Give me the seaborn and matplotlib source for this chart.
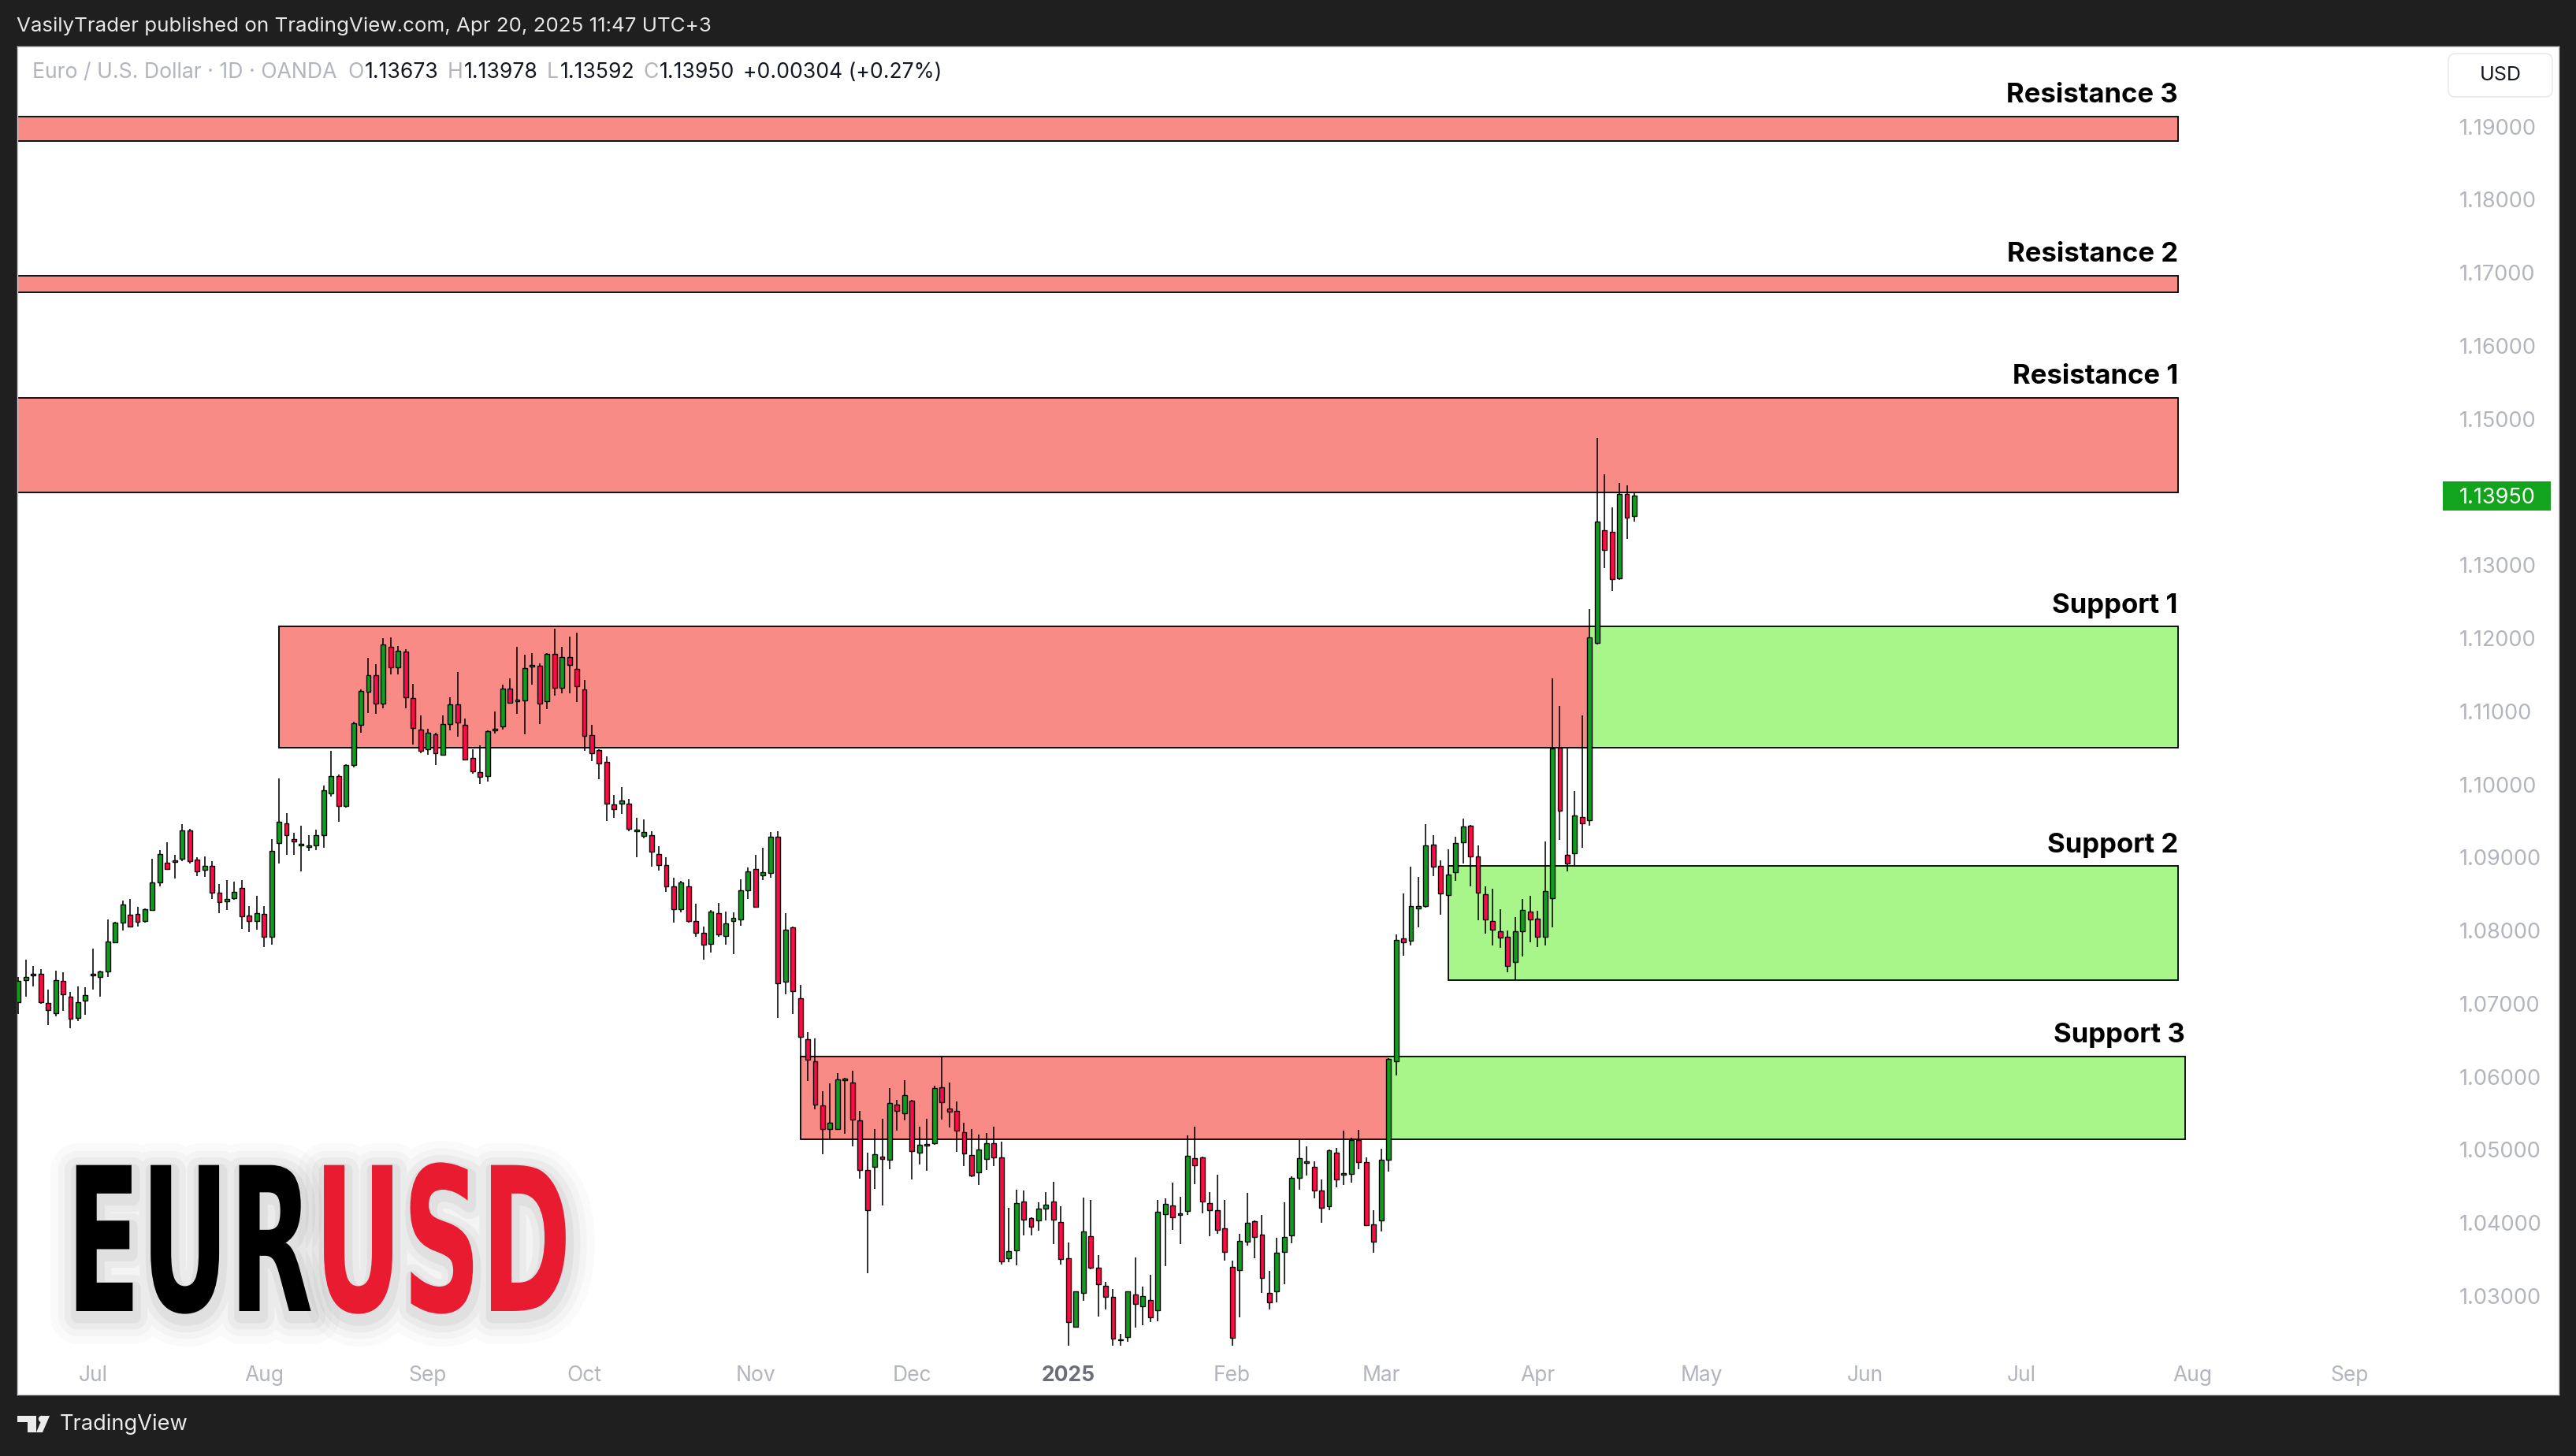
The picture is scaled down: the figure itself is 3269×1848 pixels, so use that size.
import matplotlib
matplotlib.use('Agg')
import matplotlib.pyplot as plt
import matplotlib.patheffects as pe
import numpy as np
import pandas as pd
import seaborn as sns
from matplotlib.patches import Rectangle, FancyBboxPatch, Polygon, Circle
from matplotlib.transforms import Affine2D, IdentityTransform, blended_transform_factory

# EUR/USD daily candles (OANDA), 17 Jun 2024 .. 18 Apr 2025
first_day = '2024-06-17'
holidays = ['2024-12-25', '2025-01-01']

opens = [
    1.0702, 1.0732, 1.0739, 1.0741, 1.0701, 1.0687, 1.0731, 1.0710, 1.0680, 1.0704,
    1.0739, 1.0737, 1.0744, 1.0784, 1.0811, 1.0822, 1.0823, 1.0813, 1.0828, 1.0866,
    1.0893, 1.0894, 1.0898, 1.0937, 1.0897, 1.0883, 1.0888, 1.0852, 1.0840, 1.0844,
    1.0858, 1.0821, 1.0813, 1.0823, 1.0791, 1.0920, 1.0947, 1.0925, 1.0917, 1.0914,
    1.0916, 1.0930, 1.0988, 1.1011, 1.0970, 1.1026, 1.1081, 1.1127, 1.1149, 1.1111,
    1.1188, 1.1160, 1.1182, 1.1118, 1.1075, 1.1048, 1.1069, 1.1040, 1.1083, 1.1109,
    1.1081, 1.1036, 1.1017, 1.1011, 1.1074, 1.1079, 1.1131, 1.1114, 1.1115, 1.1161,
    1.1162, 1.1114, 1.1178, 1.1132, 1.1174, 1.1158, 1.1130, 1.1067, 1.1047, 1.1031,
    1.0973, 1.0974, 1.0974, 1.0936, 1.0929, 1.0931, 1.0905, 1.0890, 1.0860, 1.0829,
    1.0860, 1.0813, 1.0797, 1.0782, 1.0824, 1.0793, 1.0813, 1.0815, 1.0855, 1.0884,
    1.0876, 1.0879, 1.0928, 1.0730, 1.0804, 1.0707, 1.0651, 1.0621, 1.0561, 1.0529,
    1.0529, 1.0595, 1.0592, 1.0540, 1.0472, 1.0477, 1.0491, 1.0486, 1.0562, 1.0550,
    1.0567, 1.0496, 1.0506, 1.0509, 1.0586, 1.0557, 1.0553, 1.0524, 1.0493, 1.0469,
    1.0488, 1.0509, 1.0490, 1.0352, 1.0362, 1.0429, 1.0407, 1.0403, 1.0420, 1.0429,
    1.0401, 1.0352, 1.0258, 1.0304, 1.0382, 1.0339, 1.0314, 1.0299, 1.0240, 1.0244,
    1.0302, 1.0286, 1.0295, 1.0281, 1.0412, 1.0424, 1.0411, 1.0416, 1.0489, 1.0490,
    1.0427, 1.0417, 1.0393, 1.0340, 1.0336, 1.0374, 1.0402, 1.0384, 1.0304, 1.0307,
    1.0360, 1.0383, 1.0462, 1.0482, 1.0477, 1.0444, 1.0423, 1.0496, 1.0466, 1.0467,
    1.0513, 1.0483, 1.0398, 1.0403, 1.0487, 1.0621, 1.0789, 1.0786, 1.0830, 1.0833,
    1.0918, 1.0888, 1.0849, 1.0880, 1.0921, 1.0943, 1.0901, 1.0850, 1.0813, 1.0799,
    1.0792, 1.0757, 1.0799, 1.0826, 1.0816, 1.0791, 1.0844, 1.1050, 1.0904, 1.0906,
    1.0955, 1.0951, 1.1194, 1.1348, 1.1346, 1.1282, 1.1397, 1.13673,
]
highs = [
    1.0737, 1.0760, 1.0752, 1.0747, 1.0719, 1.0745, 1.0743, 1.0716, 1.0724, 1.0723,
    1.0775, 1.0745, 1.0815, 1.0812, 1.0841, 1.0843, 1.0832, 1.0830, 1.0898, 1.0910,
    1.0921, 1.0904, 1.0946, 1.0939, 1.0900, 1.0901, 1.0895, 1.0864, 1.0869, 1.0867,
    1.0869, 1.0834, 1.0848, 1.0833, 1.0925, 1.1008, 1.0961, 1.0934, 1.0943, 1.0930,
    1.0938, 1.0998, 1.1046, 1.1014, 1.1028, 1.1086, 1.1130, 1.1173, 1.1164, 1.1200,
    1.1201, 1.1189, 1.1185, 1.1138, 1.1094, 1.1076, 1.1071, 1.1094, 1.1119, 1.1154,
    1.1090, 1.1048, 1.1053, 1.1074, 1.1100, 1.1136, 1.1145, 1.1188, 1.1177, 1.1180,
    1.1166, 1.1180, 1.1213, 1.1188, 1.1202, 1.1208, 1.1143, 1.1081, 1.1048, 1.1038,
    1.0985, 1.0996, 1.0980, 1.0954, 1.0952, 1.0936, 1.0915, 1.0900, 1.0872, 1.0868,
    1.0870, 1.0837, 1.0805, 1.0828, 1.0838, 1.0826, 1.0825, 1.0870, 1.0886, 1.0904,
    1.0913, 1.0935, 1.0936, 1.0824, 1.0806, 1.0726, 1.0661, 1.0652, 1.0580, 1.0591,
    1.0605, 1.0599, 1.0608, 1.0553, 1.0496, 1.0528, 1.0542, 1.0585, 1.0568, 1.0595,
    1.0568, 1.0532, 1.0542, 1.0588, 1.0628, 1.0592, 1.0566, 1.0537, 1.0529, 1.0521,
    1.0523, 1.0532, 1.0511, 1.0421, 1.0446, 1.0444, 1.0408, 1.0428, 1.0442, 1.0456,
    1.0423, 1.0373, 1.0307, 1.0435, 1.0432, 1.0356, 1.0319, 1.0310, 1.0248, 1.0307,
    1.0353, 1.0313, 1.0329, 1.0432, 1.0434, 1.0455, 1.0436, 1.0520, 1.0532, 1.0491,
    1.0442, 1.0466, 1.0431, 1.0348, 1.0385, 1.0441, 1.0403, 1.0411, 1.0334, 1.0380,
    1.0428, 1.0464, 1.0513, 1.0505, 1.0484, 1.0459, 1.0501, 1.0503, 1.0526, 1.0517,
    1.0527, 1.0490, 1.0417, 1.0502, 1.0626, 1.0795, 1.0851, 1.0887, 1.0873, 1.0946,
    1.0930, 1.0896, 1.0911, 1.0928, 1.0953, 1.0945, 1.0917, 1.0861, 1.0857, 1.0829,
    1.0800, 1.0818, 1.0843, 1.0848, 1.0827, 1.0922, 1.1145, 1.1107, 1.1049, 1.0991,
    1.1094, 1.1240, 1.1474, 1.1424, 1.1379, 1.1412, 1.1409, 1.13978,
]
lows = [
    1.0686, 1.0710, 1.0724, 1.0700, 1.0671, 1.0683, 1.0690, 1.0666, 1.0676, 1.0685,
    1.0719, 1.0710, 1.0736, 1.0783, 1.0800, 1.0804, 1.0805, 1.0811, 1.0827, 1.0861,
    1.0883, 1.0871, 1.0895, 1.0892, 1.0875, 1.0873, 1.0843, 1.0824, 1.0828, 1.0842,
    1.0802, 1.0798, 1.0801, 1.0777, 1.0781, 1.0892, 1.0904, 1.0904, 1.0881, 1.0909,
    1.0910, 1.0913, 1.0983, 1.0949, 1.0968, 1.1023, 1.1071, 1.1098, 1.1097, 1.1104,
    1.1150, 1.1150, 1.1104, 1.1055, 1.1043, 1.1041, 1.1026, 1.1039, 1.1074, 1.1065,
    1.1033, 1.1015, 1.1001, 1.1004, 1.1070, 1.1075, 1.1110, 1.1096, 1.1068, 1.1136,
    1.1083, 1.1103, 1.1121, 1.1125, 1.1124, 1.1113, 1.1046, 1.1032, 1.1007, 1.0950,
    1.0954, 1.0960, 1.0936, 1.0900, 1.0926, 1.0887, 1.0882, 1.0853, 1.0811, 1.0825,
    1.0811, 1.0792, 1.0760, 1.0770, 1.0792, 1.0781, 1.0768, 1.0807, 1.0843, 1.0831,
    1.0869, 1.0872, 1.0681, 1.0713, 1.0686, 1.0626, 1.0594, 1.0555, 1.0494, 1.0515,
    1.0527, 1.0522, 1.0505, 1.0461, 1.0331, 1.0447, 1.0424, 1.0474, 1.0526, 1.0540,
    1.0459, 1.0480, 1.0471, 1.0507, 1.0541, 1.0531, 1.0497, 1.0478, 1.0463, 1.0452,
    1.0473, 1.0478, 1.0343, 1.0346, 1.0342, 1.0383, 1.0383, 1.0389, 1.0404, 1.0371,
    1.0343, 1.0232, 1.0257, 1.0294, 1.0337, 1.0272, 1.0282, 1.0232, 1.0232, 1.0238,
    1.0257, 1.0260, 1.0264, 1.0265, 1.0341, 1.0391, 1.0371, 1.0411, 1.0453, 1.0413,
    1.0382, 1.0385, 1.0348, 1.0232, 1.0271, 1.0369, 1.0352, 1.0304, 1.0282, 1.0291,
    1.0316, 1.0372, 1.0446, 1.0465, 1.0434, 1.0400, 1.0417, 1.0449, 1.0452, 1.0455,
    1.0474, 1.0396, 1.0359, 1.0388, 1.0470, 1.0602, 1.0766, 1.0780, 1.0804, 1.0831,
    1.0875, 1.0822, 1.0847, 1.0868, 1.0892, 1.0861, 1.0814, 1.0796, 1.0780, 1.0776,
    1.0743, 1.0732, 1.0765, 1.0784, 1.0778, 1.0780, 1.0804, 1.0924, 1.0881, 1.0888,
    1.0913, 1.0944, 1.1191, 1.1296, 1.1265, 1.1280, 1.1336, 1.13592,
]
closes = [
    1.0731, 1.0737, 1.0741, 1.0702, 1.0691, 1.0732, 1.0713, 1.0679, 1.0702, 1.0712,
    1.0741, 1.0744, 1.0785, 1.0811, 1.0836, 1.0805, 1.0812, 1.0829, 1.0866, 1.0905,
    1.0884, 1.0896, 1.0937, 1.0895, 1.0881, 1.0889, 1.0852, 1.0839, 1.0843, 1.0853,
    1.0820, 1.0813, 1.0824, 1.0791, 1.0909, 1.0949, 1.0931, 1.0922, 1.0919, 1.0916,
    1.0930, 1.0992, 1.1011, 1.0970, 1.1026, 1.1084, 1.1128, 1.1149, 1.1111, 1.1191,
    1.1160, 1.1183, 1.1119, 1.1077, 1.1046, 1.1071, 1.1043, 1.1082, 1.1109, 1.1085,
    1.1034, 1.1018, 1.1010, 1.1073, 1.1076, 1.1131, 1.1112, 1.1116, 1.1159, 1.1163,
    1.1110, 1.1178, 1.1132, 1.1174, 1.1163, 1.1134, 1.1066, 1.1043, 1.1029, 1.0974,
    1.0966, 1.0978, 1.0939, 1.0938, 1.0935, 1.0908, 1.0890, 1.0860, 1.0829, 1.0866,
    1.0813, 1.0797, 1.0781, 1.0826, 1.0795, 1.0810, 1.0817, 1.0855, 1.0881, 1.0832,
    1.0880, 1.0928, 1.0728, 1.0801, 1.0717, 1.0655, 1.0623, 1.0562, 1.0529, 1.0537,
    1.0596, 1.0597, 1.0541, 1.0472, 1.0417, 1.0494, 1.0488, 1.0564, 1.0553, 1.0575,
    1.0498, 1.0507, 1.0508, 1.0585, 1.0565, 1.0552, 1.0526, 1.0495, 1.0465, 1.0500,
    1.0509, 1.0490, 1.0347, 1.0361, 1.0427, 1.0405, 1.0395, 1.0420, 1.0425, 1.0405,
    1.0351, 1.0264, 1.0306, 1.0388, 1.0339, 1.0316, 1.0299, 1.0242, 1.0241, 1.0306,
    1.0289, 1.0300, 1.0271, 1.0415, 1.0426, 1.0408, 1.0413, 1.0492, 1.0479, 1.0429,
    1.0418, 1.0391, 1.0360, 1.0243, 1.0376, 1.0400, 1.0381, 1.0325, 1.0291, 1.0359,
    1.0381, 1.0462, 1.0489, 1.0484, 1.0444, 1.0421, 1.0499, 1.0459, 1.0468, 1.0513,
    1.0483, 1.0397, 1.0374, 1.0486, 1.0624, 1.0787, 1.0784, 1.0833, 1.0834, 1.0917,
    1.0887, 1.0851, 1.0877, 1.0920, 1.0942, 1.0901, 1.0852, 1.0815, 1.0801, 1.0790,
    1.0752, 1.0799, 1.0828, 1.0815, 1.0792, 1.0854, 1.1049, 1.0964, 1.0892, 1.0957,
    1.0947, 1.1201, 1.1359, 1.1321, 1.1281, 1.1397, 1.1365, 1.13950,
]

# supply / demand zones drawn on the chart
zone_labels = ['Resistance 3', 'Resistance 2', 'Resistance 1', 'Support 1', 'Support 2', 'Support 3']
zone_low = [1.1880, 1.1673, 1.1399, 1.1050, 1.0732, 1.0514]
zone_high = [1.1914, 1.1696, 1.1529, 1.1216, 1.0888, 1.0628]
zone_start = [None, None, None, '2024-08-05', '2025-03-14', '2024-11-11']
zone_green_from = [None, None, None, '2025-04-10', '2025-03-14', '2025-03-04']
zone_end = ['2025-07-30', '2025-07-30', '2025-07-30', '2025-07-30', '2025-07-30', '2025-07-31']

price_ticks = [1.19, 1.18, 1.17, 1.16, 1.15, 1.13, 1.12, 1.11, 1.10, 1.09,
               1.08, 1.07, 1.06, 1.05, 1.04, 1.03]
month_labels = ['Jul', 'Aug', 'Sep', 'Oct', 'Nov', 'Dec', '2025', 'Feb', 'Mar',
                'Apr', 'May', 'Jun', 'Jul', 'Aug', 'Sep']
month_dates = ['2024-07-01', '2024-08-01', '2024-09-02', '2024-10-01', '2024-11-01',
               '2024-12-02', '2025-01-02', '2025-02-03', '2025-03-03', '2025-04-01',
               '2025-05-01', '2025-06-02', '2025-07-01', '2025-08-01', '2025-09-01']
change_text = '+0.00304 (+0.27%)'

UP, DOWN = '#0f9d1c', '#ff0a45'
ZONE_RED, ZONE_GREEN = '#f98b87', '#a8f58a'
GREY = '#b2b5be'


class Squeeze(pe.AbstractPathEffect):
    """Narrow the glyphs horizontally around x0 (display px) and add a soft shadow."""
    def __init__(self, sx, x0):
        super().__init__()
        self.sx, self.x0 = sx, x0

    def draw_path(self, renderer, gc, tpath, affine, rgbFace=None):
        aff = affine + Affine2D().translate(-self.x0, 0).scale(self.sx, 1).translate(self.x0, 0)
        for lw, a in [(50, 0.018), (36, 0.025), (24, 0.035), (12, 0.045)]:
            gc0 = renderer.new_gc()
            gc0.copy_properties(gc)
            gc0.set_foreground('black')
            gc0.set_alpha(a)
            gc0.set_linewidth(lw)
            gc0.set_joinstyle('round')
            renderer.draw_path(gc0, tpath, aff + Affine2D().translate(2, -7), None)
            gc0.restore()
        renderer.draw_path(gc, tpath, aff, rgbFace)


sns.set_style('white')
plt.rcParams['font.family'] = ['Inter', 'DejaVu Sans']

W, H = 3269, 1848
L, R, T, B = 22, 3247, 59, 1770
fig = plt.figure(figsize=(W / 100, H / 100), dpi=100, facecolor='#1f1f1f')
ax = fig.add_axes([L / W, 1 - B / H, (R - L) / W, (B - T) / H])
ax.set_facecolor('white')
for s in ax.spines.values():
    s.set_color('#cfd2d8')
    s.set_linewidth(1)
ax.set_xticks([])
ax.set_yticks([])
ax.set_xlim(-0.14, 341.13)
ax.set_ylim(1.01653, 1.20094)


def axx(px):
    return (px - L) / (R - L)


def axy(py):
    return (B - py) / (B - T)


cal = pd.bdate_range(first_day, '2025-09-30').drop(pd.to_datetime(holidays))


def pos(d):
    return cal.searchsorted(pd.Timestamp(d))


df = pd.DataFrame({'open': opens, 'high': highs, 'low': lows, 'close': closes})
df['x'] = np.arange(len(df))
df['up'] = df['close'] >= df['open']

# zones
x_left = ax.get_xlim()[0] - 5
for lab, lo, hi, st, gf, en in zip(zone_labels, zone_low, zone_high, zone_start,
                                    zone_green_from, zone_end):
    x0 = pos(st) if st else x_left
    x1 = pos(en)
    xg = pos(gf) if gf else x1
    if xg > x0:
        ax.add_patch(Rectangle((x0, lo), xg - x0, hi - lo, facecolor=ZONE_RED,
                               edgecolor='none', zorder=1))
    if x1 > xg:
        ax.add_patch(Rectangle((xg, lo), x1 - xg, hi - lo, facecolor=ZONE_GREEN,
                               edgecolor='none', zorder=1))
    ax.add_patch(Rectangle((x0, lo), x1 - x0, hi - lo, facecolor='none',
                           edgecolor='black', linewidth=1.3, zorder=1.5))
    ax.annotate(lab, xy=(x1, hi), xytext=(0, 19), textcoords='offset points',
                ha='right', va='center', fontsize=25, fontweight='bold', color='black')

# candles
ax.vlines(df['x'], df['low'], df['high'], colors='black', linewidth=1.15, zorder=3)
body_lo = df[['open', 'close']].min(axis=1)
body_h = (df['close'] - df['open']).abs()
ax.bar(df['x'], body_h, bottom=body_lo, width=0.62,
       color=np.where(df['up'], UP, DOWN), edgecolor='black', linewidth=1.0, zorder=4)

# price scale
tr_yd = blended_transform_factory(ax.transAxes, ax.transData)
for p in price_ticks:
    ax.text(axx(3121), p, f'{p:.5f}', transform=tr_yd, ha='left', va='center_baseline',
            fontsize=19.5, color=GREY)
last = closes[-1]
dy = (ax.get_ylim()[1] - ax.get_ylim()[0]) / (B - T)
ax.add_patch(Rectangle((axx(3100), last - 18.5 * dy), axx(3237) - axx(3100), 37 * dy,
                       transform=tr_yd, facecolor='#13a41e', edgecolor='none', zorder=5))
ax.text(axx(3121), last, f'{last:.5f}', transform=tr_yd, ha='left', va='center_baseline',
        fontsize=19.5, color='white', zorder=6)

# time scale
tr_xd = blended_transform_factory(ax.transData, ax.transAxes)
for lab, d in zip(month_labels, month_dates):
    bold = lab.isdigit()
    ax.text(pos(d), axy(1743), lab, transform=tr_xd, ha='center', va='center_baseline',
            fontsize=19, color='#6b6e78' if bold else GREY,
            fontweight='bold' if bold else 'normal')

# USD box
fig.add_artist(FancyBboxPatch((3107, H - 123), 132, 55,
                              boxstyle='round,pad=0,rounding_size=9',
                              transform=IdentityTransform(), facecolor='white',
                              edgecolor='#e4e6eb', linewidth=1))
fig.text(3173 / W, 1 - 96 / H, 'USD', ha='center', va='center', fontsize=18, color='#131722')

# symbol line
parts = [('Euro / U.S. Dollar · 1D · OANDA', GREY, 0), ('O', GREY, 10), (f'{opens[-1]:.5f}', '#131722', 1),
         ('H', GREY, 8), (f'{highs[-1]:.5f}', '#131722', 1), ('L', GREY, 8),
         (f'{lows[-1]:.5f}', '#131722', 1), ('C', GREY, 8), (f'{closes[-1]:.5f}', '#131722', 1),
         (change_text, '#131722', 8)]
prev = ax.text(axx(41), axy(92), parts[0][0], transform=ax.transAxes, ha='left',
               va='center', fontsize=19.1, color=parts[0][1])
for txt, col, gap in parts[1:]:
    prev = ax.annotate(txt, xy=(1, 0.5), xycoords=prev, xytext=(gap, 0),
                       textcoords='offset points', ha='left', va='center',
                       fontsize=19.1, color=col)

# header / footer
fig.text(21 / W, 1 - 33 / H, 'VasilyTrader published on TradingView.com, Apr 20, 2025 11:47 UTC+3',
         ha='left', va='center', fontsize=18.7, color='#e6e6e6')
fig.text(76 / W, 1 - 1808 / H, 'TradingView', ha='left', va='center', fontsize=19.6, color='#ececec')
logo = '#ececec'
fig.add_artist(Polygon([(22, H - 1797), (46, H - 1797), (46, H - 1818), (35, H - 1818),
                        (35, H - 1805), (22, H - 1805)], closed=True,
                       transform=IdentityTransform(), facecolor=logo, edgecolor='none'))
fig.add_artist(Circle((53, H - 1801), 4.2, transform=IdentityTransform(),
                      facecolor=logo, edgecolor='none'))
fig.add_artist(Polygon([(46, H - 1818), (54, H - 1818), (63, H - 1797), (55, H - 1797)],
                       closed=True, transform=IdentityTransform(), facecolor=logo,
                       edgecolor='none'))

# big EURUSD watermark: both halves are squeezed around the same left anchor
x0 = 84
base = (H - 1664) / H
t_eur = fig.text(x0 / W, base, 'EUR', ha='left', va='baseline', fontsize=183,
                 fontweight='bold', family='DejaVu Sans', color='black', zorder=5)
rend = fig.canvas.get_renderer()
w_eur = t_eur.get_window_extent(rend).width
t_usd = fig.text((x0 + w_eur + 2) / W, base, 'USD', ha='left', va='baseline', fontsize=183,
                 fontweight='bold', family='DejaVu Sans', color='#e81b31', zorder=5)
w_usd = t_usd.get_window_extent(rend).width
sx = 640 / (w_eur + w_usd)
t_eur.set_path_effects([Squeeze(sx, x0)])
t_usd.set_path_effects([Squeeze(sx, x0)])

fig.savefig('out.png', dpi=100, facecolor=fig.get_facecolor())
